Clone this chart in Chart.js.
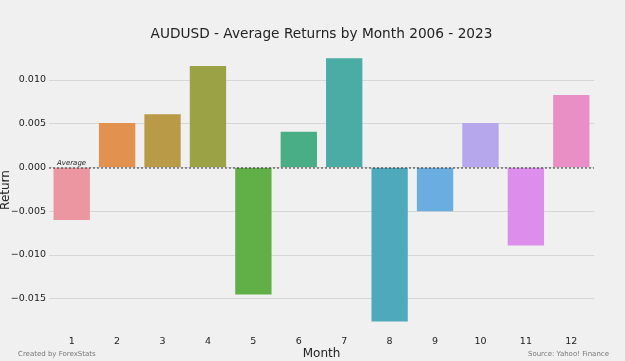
<!DOCTYPE html>
<html>
<head>
<meta charset="utf-8">
<script src="https://cdn.jsdelivr.net/npm/chart.js@4"></script>
<style>
  html, body { margin: 0; padding: 0; background: #f0f0f0; }
  #wrap { width: 625px; height: 361px; }
</style>
</head>
<body>
<div id="wrap"><canvas id="chart" width="625" height="361"></canvas></div>
<script>
// data
const months = ['1','2','3','4','5','6','7','8','9','10','11','12'];
const avgReturns = [-0.0060, 0.0051, 0.0061, 0.0116, -0.0145, 0.0041, 0.0125, -0.0176, -0.0050, 0.0051, -0.0089, 0.0083];
const yTicks = [-0.015, -0.010, -0.005, 0.000, 0.005, 0.010];
const barColors = ['#ec96a1','#e3914f','#b99b47','#9aa245','#60af47','#49ad86','#4aaca4','#4ea9bc','#6aade0','#b6a7ec','#dd8deb','#e98fc6'];

const FONT = "'DejaVu Sans', sans-serif";
const TITLE = 'AUDUSD - Average Returns by Month 2006 - 2023';

// title over the plot, y label, dotted zero line, "Average" note, footer credits
const extras = {
  id: 'extras',
  afterDatasetsDraw(chart) {
    const {ctx, chartArea, scales} = chart;
    const y0 = scales.y.getPixelForValue(0);
    ctx.save();
    ctx.strokeStyle = '#333';
    ctx.lineWidth = 1;
    ctx.setLineDash([2, 2]);
    ctx.beginPath();
    ctx.moveTo(chartArea.left, y0 + 0.5);
    ctx.lineTo(chartArea.right, y0 + 0.5);
    ctx.stroke();
    ctx.setLineDash([]);
    ctx.fillStyle = '#222';
    ctx.font = "italic 7px " + FONT;
    ctx.textBaseline = 'bottom';
    ctx.textAlign = 'left';
    ctx.fillText('Average', chartArea.left + 8, y0 - 0.5);
    ctx.restore();
  },
  afterDraw(chart) {
    const {ctx, chartArea} = chart;
    ctx.save();
    // title
    ctx.fillStyle = '#222';
    ctx.font = "13.7px " + FONT;
    ctx.textAlign = 'center';
    ctx.textBaseline = 'middle';
    ctx.fillText(TITLE, (chartArea.left + chartArea.right) / 2, 34);
    // y axis label
    ctx.save();
    ctx.translate(6, 190);
    ctx.rotate(-Math.PI / 2);
    ctx.font = "12px " + FONT;
    ctx.fillText('Return', 0, 0);
    ctx.restore();
    // credits
    ctx.fillStyle = '#777';
    ctx.font = "7px " + FONT;
    ctx.textAlign = 'left';
    ctx.fillText('Created by ForexStats', 18, 354);
    ctx.textAlign = 'right';
    ctx.fillText('Source: Yahoo! Finance', 609, 354);
    ctx.restore();
  }
};

new Chart(document.getElementById('chart').getContext('2d'), {
  type: 'bar',
  data: {
    labels: months,
    datasets: [{
      label: 'Return',
      data: avgReturns,
      backgroundColor: barColors,
      borderWidth: 0,
      barPercentage: 0.8,
      categoryPercentage: 1.0
    }]
  },
  options: {
    responsive: false,
    animation: false,
    layout: { padding: { left: 0, right: 31, top: 45, bottom: 0 } },
    plugins: {
      legend: { display: false },
      tooltip: { enabled: false },
      title: { display: false }
    },
    scales: {
      x: {
        grid: { display: false, drawTicks: false },
        border: { display: false },
        ticks: { color: '#222', font: { family: FONT, size: 9.5 }, padding: 11, maxRotation: 0 },
        title: { display: true, text: 'Month', color: '#222', font: { family: FONT, size: 12 }, padding: 0 },
        afterFit(scale) { scale.height = 36; }
      },
      y: {
        min: -0.018,
        max: 0.014,
        afterBuildTicks(scale) { scale.ticks = yTicks.map(v => ({value: v})); },
        grid: { color: '#d6d6d6', lineWidth: 1, drawTicks: false },
        border: { display: false },
        ticks: {
          color: '#222',
          font: { family: FONT, size: 9.5 },
          padding: 3,
          callback: v => (v < 0 ? '\u2212' : '') + Math.abs(v).toFixed(3)
        },
        title: { display: false },
        afterFit(scale) { scale.width = 49; }
      }
    }
  },
  plugins: [extras]
});
</script>
</body>
</html>
